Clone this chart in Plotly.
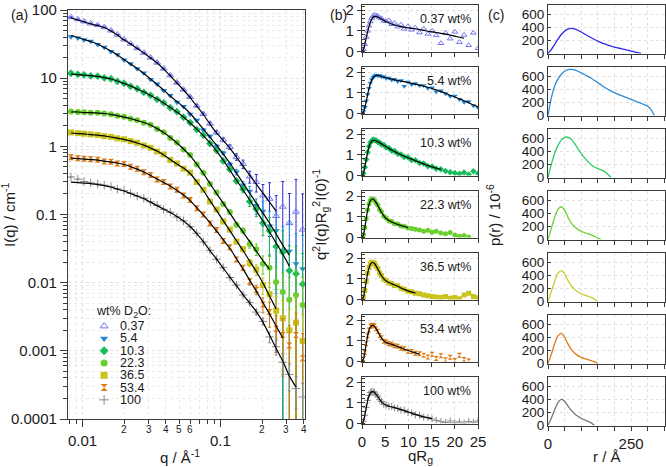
import math
import plotly.graph_objects as go

W, H = 666, 467

# ---------------- data ----------------
series = ["0.37", "5.4", "10.3", "22.3", "36.5", "53.4", "100"]

q = [0.0082, 0.0092, 0.0102, 0.0114, 0.0128, 0.0143, 0.0160, 0.0178, 0.0199, 0.0222,
     0.0248, 0.0277, 0.0310, 0.0346, 0.0386, 0.0431, 0.0482, 0.0538, 0.0601, 0.0671,
     0.0750, 0.0837, 0.0935, 0.1045, 0.1167, 0.1303, 0.1456, 0.1626, 0.1816, 0.2029,
     0.2266, 0.2531, 0.2827, 0.3158, 0.3527, 0.3940]

I_037 = [78.5, 73.0, 68.0, 63.5, 60.0, 56.0, 50.0, 43.5, 37.0, 32.0, 27.5, 23.6, 20.0, 16.9, 13.8,
         11.0, 8.6, 6.8, 5.3, 3.95, 2.98, 2.16, 1.60, 1.25, 0.98, 0.70, 0.55, 0.36, 0.30, 0.19,
         0.17, 0.095, 0.13, 0.075, 0.11, 0.06]
I_054 = [40.5, 39.0, 36.5, 34.8, 31.2, 28.5, 24.6, 22.2, 18.5, 16.3, 13.7, 11.9, 9.6, 8.2, 6.6,
         5.55, 4.45, 3.85, 2.95, 2.42, 1.74, 1.41, 1.00, 0.80, 0.54, 0.42, 0.27, 0.22, 0.135, 0.112,
         0.068, 0.058, 0.030, 0.029, 0.019, 0.016]
I_103 = [11.8, 11.4, 11.2, 10.8, 10.7, 10.1, 9.8, 9.0, 8.4, 7.6, 7.0, 6.2, 5.6, 4.9, 4.35,
         3.68, 3.22, 2.66, 2.23, 1.76, 1.46, 1.10, 0.87, 0.61, 0.46, 0.31, 0.235, 0.155, 0.12, 0.075,
         0.058, 0.034, 0.028, 0.015, 0.0135, 0.0095]
I_223 = [3.25, 3.2, 3.15, 3.12, 3.1, 3.02, 2.95, 2.8, 2.72, 2.54, 2.42, 2.22, 2.07, 1.8, 1.61,
         1.33, 1.14, 0.9, 0.745, 0.54, 0.41, 0.28, 0.21, 0.142, 0.109, 0.071, 0.058, 0.037, 0.031, 0.019,
         0.0165, 0.0102, 0.0073, 0.0056, 0.0066, 0.0047]
I_365 = [1.6, 1.56, 1.53, 1.5, 1.47, 1.41, 1.38, 1.31, 1.27, 1.19, 1.13, 1.03, 0.95, 0.84, 0.76,
         0.63, 0.56, 0.47, 0.41, 0.3, 0.23, 0.155, 0.118, 0.079, 0.06, 0.04, 0.031, 0.0195, 0.0155, 0.0092,
         0.0068, 0.0039, 0.0030, 0.0020, 0.0026, 0.0014]
I_534 = [0.69, 0.67, 0.66, 0.645, 0.635, 0.6, 0.595, 0.56, 0.55, 0.5, 0.47, 0.415, 0.38, 0.325, 0.3,
         0.258, 0.23, 0.19, 0.163, 0.123, 0.1, 0.074, 0.059, 0.041, 0.033, 0.0218, 0.0165, 0.0104, 0.0079, 0.0048,
         0.0037, 0.0021, 0.0017, 0.0012, 0.0017, 0.00078]
I_100 = [0.355, 0.33, 0.305, 0.29, 0.28, 0.268, 0.256, 0.238, 0.224, 0.205, 0.186, 0.173, 0.153, 0.136, 0.119,
         0.108, 0.092, 0.081, 0.066, 0.053, 0.0395, 0.0298, 0.022, 0.0166, 0.0119, 0.0092, 0.0066, 0.0051, 0.0037, 0.0027,
         0.0016, 0.00115, 0.00068, 0.00045, 0.00028, 0.00021]

# relative uncertainty along q, and per-series scale of it
rel_err = [0.005, 0.005, 0.005, 0.005, 0.005, 0.005, 0.005, 0.005, 0.005, 0.005, 0.006, 0.007, 0.008, 0.009, 0.01,
           0.011, 0.012, 0.013, 0.015, 0.017, 0.02, 0.024, 0.03, 0.035, 0.045, 0.06, 0.08, 0.11, 0.16, 0.25,
           0.4, 0.55, 0.75, 0.95, 1.1, 1.3]
err_scale = [1.8, 1.6, 1.4, 1.2, 1.1, 1.0, 0.45]

Fit_037 = [76.3, 71.3, 66.7, 62.3, 59.2, 55.4, 49.2, 43.0, 36.3, 31.7, 27.2, 23.4, 19.8, 16.7, 13.6, 10.8,
           8.49, 6.70, 5.20, 3.90, 2.93, 2.12, 1.57, 1.22, 0.944, 0.697, 0.514, 0.379, 0.280, 0.206, 0.152, 0.112]
Fit_054 = [42.3, 39.5, 36.9, 34.5, 31.7, 28.2, 25.0, 21.9, 18.8, 16.1, 13.9, 11.7, 9.72, 8.07, 6.70, 5.47,
           4.54, 3.77, 3.03, 2.35, 1.79, 1.37, 1.04, 0.771, 0.569, 0.406, 0.289, 0.206, 0.147, 0.105, 0.0749,
           0.0517, 0.0356, 0.0254]
Fit_103 = [11.5, 11.3, 11.1, 10.9, 10.6, 10.2, 9.72, 9.08, 8.35, 7.67, 6.93, 6.26, 5.57, 4.94, 4.32, 3.71,
           3.19, 2.69, 2.20, 1.79, 1.44, 1.12, 0.853, 0.629, 0.449, 0.320, 0.229, 0.163, 0.114, 0.0801, 0.0553,
           0.0381, 0.0263, 0.0175]
Fit_223 = [3.19, 3.19, 3.13, 3.13, 3.08, 3.03, 2.93, 2.83, 2.69, 2.56, 2.39, 2.24, 2.05, 1.82, 1.59, 1.35,
           1.12, 0.913, 0.733, 0.550, 0.399, 0.285, 0.203, 0.147, 0.105, 0.0749, 0.0553, 0.0401, 0.0291, 0.0211,
           0.0158]
Fit_365 = [1.57, 1.54, 1.52, 1.49, 1.46, 1.42, 1.37, 1.32, 1.26, 1.20, 1.12, 1.04, 0.944, 0.853, 0.745, 0.640,
           0.550, 0.480, 0.399, 0.304, 0.225, 0.160, 0.114, 0.0815, 0.0581, 0.0415, 0.0296, 0.0207, 0.0146,
           0.00986, 0.00636, 0.00410]
Fit_534 = [0.673, 0.662, 0.651, 0.640, 0.629, 0.608, 0.588, 0.569, 0.541, 0.505, 0.464, 0.420, 0.373, 0.331,
           0.294, 0.262, 0.225, 0.193, 0.160, 0.126, 0.0982, 0.0762, 0.0572, 0.0429, 0.0317, 0.0226, 0.0158,
           0.0109, 0.00753, 0.00511, 0.00346, 0.00231, 0.00154]
Fit_100 = [0.299, 0.294, 0.289, 0.284, 0.275, 0.266, 0.253, 0.236, 0.221, 0.203, 0.187, 0.171, 0.152, 0.135,
           0.120, 0.107, 0.0933, 0.0801, 0.0666, 0.0525, 0.0401, 0.0296, 0.0222, 0.0164, 0.0121, 0.00907,
           0.00669, 0.00502, 0.00377, 0.00264, 0.00170, 0.00108, 0.000707, 0.000426, 0.000294]

# dimensionless Kratky (panel b)
qRg = [0.0, 0.3, 0.6, 0.9, 1.2, 1.5, 1.8, 2.1, 2.4, 2.7, 3.0, 3.4, 3.8, 4.2, 4.7, 5.2, 5.8, 6.4, 7.0, 7.7,
       8.4, 9.1, 9.9, 10.7, 11.5, 12.4, 13.3, 14.2, 15.1, 16.0, 17.0, 18.0, 19.0, 20.0, 21.0, 22.0, 23.0,
       24.0, 25.0]

K_037 = [0, 0.1, 0.35, 0.7, 1.0, 1.25, 1.45, 1.62, 1.72, 1.78, 1.74, 1.72, 1.64, 1.6, 1.48, 1.46, 1.5, 1.32,
         1.38, 1.2, 1.3, 1.1, 1.22, 1.05, 1.15, 0.92, 1.1, 0.85, 1.0, 0.78, 0.4, 0.9, 0.62, 0.95, 0.45, 0.8,
         0.3, 0.9, 0.15]
K_054 = [0, 0.08, 0.3, 0.6, 0.92, 1.22, 1.48, 1.64, 1.76, 1.82, 1.86, 1.83, 1.85, 1.78, 1.78, 1.7, 1.72,
         1.62, 1.66, 1.55, 1.6, 1.32, 1.52, 1.4, 1.45, 1.35, 1.36, 1.22, 1.24, 1.05, 1.1, 0.95, 0.84, 0.85,
         0.68, 0.55, 0.58, 0.38, 0.28]
K_103 = [0, 0.11, 0.4, 0.78, 1.12, 1.4, 1.6, 1.68, 1.74, 1.7, 1.7, 1.62, 1.6, 1.5, 1.48, 1.36, 1.33, 1.2,
         1.18, 1.05, 1.02, 0.9, 0.88, 0.75, 0.74, 0.6, 0.58, 0.45, 0.44, 0.33, 0.3, 0.22, 0.16, 0.12, 0.08,
         0.14, 0.05, 0.2, 0.1]
K_223 = [0, 0.13, 0.48, 0.92, 1.33, 1.62, 1.8, 1.88, 1.85, 1.82, 1.68, 1.56, 1.36, 1.24, 1.03, 0.94, 0.8,
         0.77, 0.67, 0.65, 0.56, 0.55, 0.46, 0.44, 0.4, 0.36, 0.3, 0.35, 0.25, 0.3, 0.22, 0.18, 0.24, 0.12,
         0.06, 0.1, 0.02]
K_365 = [0, 0.12, 0.44, 0.88, 1.27, 1.55, 1.72, 1.8, 1.78, 1.76, 1.62, 1.5, 1.28, 1.16, 0.98, 0.92, 0.8,
         0.78, 0.68, 0.66, 0.54, 0.5, 0.4, 0.37, 0.3, 0.28, 0.22, 0.18, 0.15, 0.12, 0.1, 0.14, 0.06, 0.1,
         0.04, 0.22, 0.3, 0.15, 0.08]
K_534 = [0, 0.12, 0.44, 0.86, 1.25, 1.52, 1.7, 1.76, 1.74, 1.72, 1.58, 1.46, 1.26, 1.15, 0.98, 0.94, 0.86,
         0.84, 0.76, 0.74, 0.64, 0.62, 0.5, 0.48, 0.4, 0.38, 0.3, 0.22, 0.35, 0.15, 0.28, 0.08, 0.2, 0.05,
         0.3, 0.1, 0.02]
K_100 = [0, 0.11, 0.4, 0.78, 1.12, 1.36, 1.5, 1.56, 1.52, 1.52, 1.4, 1.32, 1.15, 1.07, 0.93, 0.9, 0.82,
         0.82, 0.75, 0.74, 0.65, 0.64, 0.54, 0.52, 0.42, 0.4, 0.3, 0.29, 0.22, 0.15, 0.1, 0.05, 0.12, 0.03,
         0.08, 0.02, 0.1, 0.06, 0.12]

KFit_037 = [0, 0.09, 0.33, 0.65, 0.95, 1.2, 1.42, 1.57, 1.66, 1.70, 1.70, 1.67, 1.62, 1.57, 1.50, 1.44, 1.38,
            1.33, 1.28, 1.24, 1.2, 1.17, 1.15, 1.12, 1.10, 1.06, 1.02, 0.98, 0.95, 0.92, 0.88, 0.84, 0.79,
            0.74, 0.69, 0.64]
KFit_054 = [0, 0.07, 0.27, 0.57, 0.9, 1.2, 1.45, 1.62, 1.73, 1.8, 1.83, 1.84, 1.82, 1.8, 1.76, 1.73, 1.7,
            1.66, 1.63, 1.6, 1.57, 1.54, 1.5, 1.46, 1.42, 1.37, 1.32, 1.27, 1.21, 1.14, 1.06, 0.98, 0.88,
            0.8, 0.71, 0.62, 0.52, 0.42, 0.33]
KFit_103 = [0, 0.1, 0.38, 0.75, 1.1, 1.38, 1.56, 1.66, 1.7, 1.7, 1.68, 1.64, 1.58, 1.53, 1.46, 1.39, 1.31,
            1.23, 1.16, 1.08, 1.0, 0.93, 0.86, 0.79, 0.72, 0.64, 0.56, 0.48, 0.42, 0.36, 0.3]
KFit_223 = [0, 0.12, 0.45, 0.9, 1.3, 1.6, 1.78, 1.85, 1.86, 1.8, 1.7, 1.55, 1.38, 1.22, 1.05, 0.92, 0.82,
            0.75, 0.69, 0.63, 0.58, 0.53, 0.48]
KFit_365 = [0, 0.11, 0.42, 0.85, 1.25, 1.52, 1.7, 1.78, 1.79, 1.74, 1.64, 1.48, 1.3, 1.15, 1.0, 0.9, 0.82,
            0.76, 0.7, 0.64, 0.56, 0.49, 0.42, 0.36, 0.32]
KFit_534 = [0, 0.11, 0.42, 0.84, 1.22, 1.5, 1.67, 1.74, 1.75, 1.7, 1.6, 1.45, 1.28, 1.14, 1.0, 0.92, 0.87,
            0.83, 0.78, 0.72, 0.66, 0.6, 0.53, 0.47, 0.42, 0.36]
KFit_100 = [0, 0.1, 0.38, 0.75, 1.1, 1.33, 1.47, 1.53, 1.54, 1.5, 1.42, 1.3, 1.17, 1.05, 0.95, 0.88, 0.84,
            0.8, 0.77, 0.72, 0.67, 0.62, 0.56, 0.5, 0.44, 0.38, 0.32, 0.27, 0.24]

# pair distance distributions (panel c)
r = [0, 10, 20, 30, 40, 50, 60, 70, 80, 90, 100, 110, 120, 130, 140, 150, 160, 170, 180, 190, 200,
     210, 220, 230, 240, 250, 260, 270, 280, 290, 300, 310, 320, 330]
P_037 = [0, 60, 140, 220, 290, 340, 372, 382, 375, 355, 328, 298, 268, 240, 213, 188, 166, 146, 128, 112,
         98, 86, 74, 62, 50, 38, 25, 12, 0]
P_054 = [0, 270, 450, 560, 630, 675, 700, 705, 695, 675, 650, 625, 598, 568, 535, 500, 465, 432, 400, 372,
         348, 325, 305, 285, 265, 245, 225, 205, 185, 165, 140, 90, 0]
P_103 = [0, 200, 370, 490, 570, 612, 615, 585, 520, 440, 365, 300, 245, 195, 160, 135, 115, 90, 50, 0]
P_223 = [0, 170, 340, 460, 500, 450, 340, 250, 195, 155, 125, 105, 88, 70, 48, 22, 0]
P_365 = [0, 150, 310, 430, 470, 420, 320, 240, 185, 145, 118, 97, 80, 62, 35, 0]
P_534 = [0, 140, 300, 420, 460, 400, 300, 215, 160, 120, 92, 75, 60, 45, 25, 0]
P_100 = [0, 110, 240, 350, 400, 370, 300, 230, 180, 140, 110, 85, 62, 40, 0]

y_ticks_a = [1e-4, 1e-3, 1e-2, 1e-1, 1, 10, 100]
y_ticktext_a = ["0.0001", "0.001", "0.01", "0.1", "1", "10", "100"]

I_all = [I_037, I_054, I_103, I_223, I_365, I_534, I_100]
Fit_all = [Fit_037, Fit_054, Fit_103, Fit_223, Fit_365, Fit_534, Fit_100]
K_all = [K_037, K_054, K_103, K_223, K_365, K_534, K_100]
KFit_all = [KFit_037, KFit_054, KFit_103, KFit_223, KFit_365, KFit_534, KFit_100]
P_all = [P_037, P_054, P_103, P_223, P_365, P_534, P_100]

# ---------------- style ----------------
FONT = "Liberation Sans, Arial, Helvetica, sans-serif"
TXT = "#1a1a1a"
AX = "#3a3a3a"
marker_colors = ["#7474f2", "#1f86d6", "#19bd5c", "#68cf2c", "#c9c41b", "#dc7a14", "#8c8c8c"]
err_colors = ["#2a2ad0", "#3193e2", "#18b455", "#62c826", "#c4bf12", "#d3740f", "#8a8a8a"]
pr_colors = ["#2a2ae8", "#2e8ad6", "#2ccb63", "#6fd130", "#cdca26", "#dd7a1a", "#7a7a7a"]
symbols = ["triangle-up-open", "triangle-down", "diamond", "circle", "square", "hourglass", "cross-thin"]


def dx(a, b):
    return [a / W, b / W]


def dy(top, bottom):
    return [1 - bottom / H, 1 - top / H]


def mk(i, size):
    m = dict(symbol=symbols[i], size=size, color=marker_colors[i])
    if symbols[i] in ("triangle-up-open", "cross-thin"):
        m["line"] = dict(color=marker_colors[i], width=1)
    else:
        m["line"] = dict(width=0)
    return m


fig = go.Figure()

# ---- panel (a) ----
for i in range(7):
    errs = [v * e * err_scale[i] for v, e in zip(I_all[i], rel_err)]
    fig.add_trace(go.Scatter(
        x=q, y=I_all[i], mode="markers", marker=mk(i, 6),
        error_y=dict(type="data", array=errs, color=err_colors[i], thickness=1, width=1.5),
        xaxis="x", yaxis="y", showlegend=False))
for i in range(7):
    fig.add_trace(go.Scatter(
        x=q[:len(Fit_all[i])], y=Fit_all[i], mode="lines",
        line=dict(color="black", width=1.2, shape="spline", smoothing=0.6),
        xaxis="x", yaxis="y", showlegend=False))

# ---- panel (b) ----
for k in range(7):
    n = 2 + k
    fig.add_trace(go.Scatter(
        x=qRg[:len(K_all[k])], y=K_all[k], mode="markers", marker=mk(k, 5),
        xaxis=f"x{n}", yaxis=f"y{n}", showlegend=False))
    fig.add_trace(go.Scatter(
        x=qRg[:len(KFit_all[k])], y=KFit_all[k], mode="lines",
        line=dict(color="black", width=1.2, shape="spline", smoothing=0.6),
        xaxis=f"x{n}", yaxis=f"y{n}", showlegend=False))

# ---- panel (c) ----
for k in range(7):
    n = 9 + k
    fig.add_trace(go.Scatter(
        x=r[:len(P_all[k])], y=P_all[k], mode="lines",
        line=dict(color=pr_colors[k], width=1.3, shape="spline", smoothing=0.8),
        xaxis=f"x{n}", yaxis=f"y{n}", showlegend=False))

# ---- legend keys (own hidden axis) ----
for i in range(7):
    fig.add_trace(go.Scatter(
        x=[0.13], y=[i], mode="markers", marker=mk(i, 7),
        xaxis="x16", yaxis="y16", showlegend=False, hoverinfo="skip"))

common = dict(showline=True, linecolor=AX, linewidth=1.2, mirror=True, zeroline=False,
              automargin=False,
              tickcolor=AX, tickfont=dict(size=15, color=TXT, family=FONT),
              gridcolor="#e0e0e0", griddash="dot", gridwidth=1)

layout = dict(
    width=W, height=H, margin=dict(l=0, r=0, t=0, b=0, autoexpand=False),
    paper_bgcolor="white", plot_bgcolor="rgba(0,0,0,0)",
    font=dict(family=FONT, size=14, color=TXT),
    showlegend=False,
)

minor_x = [0.008, 0.009] + [m * 0.01 for m in range(2, 10)] + [0.2, 0.3, 0.4]
minor_y = [m * 10.0 ** e for e in range(-4, 2) for m in range(2, 10)]

layout["xaxis"] = dict(common, type="log", range=[math.log10(0.0078), math.log10(0.41)],
                       domain=dx(68, 305), anchor="y", tickmode="array", tickvals=[0.01, 0.1],
                       showticklabels=False, ticks="outside", ticklen=7, showgrid=True,
                       minor=dict(tickmode="array", tickvals=minor_x, ticks="outside", ticklen=4,
                                  tickcolor=AX, showgrid=True, gridcolor="#ebebeb", griddash="dot"))
layout["yaxis"] = dict(common, type="log", range=[-4, 2], domain=dy(10, 419), anchor="x",
                       tickmode="array", tickvals=y_ticks_a, ticktext=y_ticktext_a,
                       ticks="outside", ticklen=7, showgrid=True,
                       minor=dict(tickmode="array", tickvals=minor_y, ticks="outside", ticklen=4,
                                  tickcolor=AX, showgrid=True, gridcolor="#ebebeb", griddash="dot"))

tops = [5 + 62 * k for k in range(7)]
for k in range(7):
    n = 2 + k
    layout[f"xaxis{n}"] = dict(common, range=[0, 25], domain=dx(362, 478), anchor=f"y{n}",
                               tickmode="array", tickvals=[0, 5, 10, 15, 20, 25],
                               ticks="outside", ticklen=4, showticklabels=(k == 6), showgrid=True)
    layout[f"yaxis{n}"] = dict(common, range=[0, 2.25], domain=dy(tops[k], tops[k] + 46.5),
                               anchor=f"x{n}", tickmode="array", tickvals=[0, 1, 2],
                               ticks="outside", ticklen=4, showgrid=True,
                               minor=dict(dtick=0.2, tick0=0, ticks="inside", ticklen=3, tickcolor=AX,
                                          showgrid=False))
    n2 = 9 + k
    layout[f"xaxis{n2}"] = dict(common, range=[0, 352], domain=dx(548, 665), anchor=f"y{n2}",
                                tickmode="array", tickvals=[0, 50, 100, 150, 200, 250, 300, 350],
                                ticktext=["0", " ", " ", " ", " ", "250", " ", " "],
                                ticks="outside", ticklen=4, showticklabels=(k == 6), showgrid=True)
    layout[f"yaxis{n2}"] = dict(common, range=[0, 740], domain=dy(tops[k], tops[k] + 48.5),
                                anchor=f"x{n2}", tickmode="array", tickvals=[0, 200, 400, 600],
                                ticks="inside", ticklen=3, showgrid=True,
                                tickfont=dict(size=13.5, color=TXT, family=FONT))

layout["xaxis16"] = dict(domain=dx(95, 165), range=[0, 1], visible=False, anchor="y16",
                         fixedrange=True, automargin=False)
layout["yaxis16"] = dict(domain=dy(320, 406), range=[6.5, -0.5], visible=False, anchor="x16",
                         fixedrange=True, automargin=False)

fig.update_layout(**layout)

ann = []


def pa(text, xpx, ypx, size=15, angle=0, xanchor="center", yanchor="middle"):
    ann.append(dict(text=text, x=xpx / W, y=1 - ypx / H, xref="paper", yref="paper",
                    showarrow=False, textangle=angle, xanchor=xanchor, yanchor=yanchor,
                    font=dict(size=size, family=FONT, color=TXT)))


# x tick labels of panel (a)
for lab, v in [("0.01", 0.01), ("0.1", 0.1)]:
    ann.append(dict(text=lab, x=math.log10(v), xref="x", y=1 - 440 / H, yref="paper",
                    xanchor="center", yanchor="middle",
                    showarrow=False, font=dict(size=15, family=FONT, color=TXT)))
for lab, v in [("2", 0.02), ("3", 0.03), ("4", 0.04), ("5", 0.05), ("6", 0.06),
               ("2", 0.2), ("3", 0.3), ("4", 0.4)]:
    ann.append(dict(text=lab, x=math.log10(v), xref="x", y=1 - 429 / H, yref="paper",
                    xanchor="center", yanchor="middle",
                    showarrow=False, font=dict(size=10, family=FONT, color=TXT)))

# axis titles and panel labels
pa("I(q) / cm<sup>-1</sup>", 9, 215, angle=-90)
pa("q / Å<sup>-1</sup>", 180, 456)
pa("q<sup>2</sup>I(q)R<sub>g</sub><sup>2</sup>I(0)<sup>-1</sup>", 321, 215, angle=-90)
pa("qR<sub>g</sub>", 420, 456)
pa("p(r) / 10<sup>-6</sup>", 494, 215, angle=-90)
pa("r / Å", 607, 456)
pa("(a)", 19, 15, size=14)
pa("(b)", 338, 15, size=14)
pa("(c)", 496, 15, size=14)

# wt% labels in panel (b)
for k in range(7):
    n = 2 + k
    ann.append(dict(text=f"{series[k]} wt%", x=0.96, xref=f"x{n} domain", y=0.9,
                    yref=f"y{n} domain", xanchor="right", yanchor="top", showarrow=False,
                    font=dict(size=12.5, family=FONT, color=TXT)))

# legend texts
pa("wt% D<sub>2</sub>O:", 94, 312, size=12.5, xanchor="left")
for i in range(7):
    ann.append(dict(text=series[i], x=0.33, xref="x16", y=i, yref="y16", xanchor="left",
                    yanchor="middle",
                    showarrow=False, font=dict(size=12.5, family=FONT, color=TXT)))

fig.update_layout(annotations=ann)
fig.write_html("out.html", config={"displayModeBar": False},
               post_script="document.body.style.margin='0';document.body.style.overflow='hidden';")
